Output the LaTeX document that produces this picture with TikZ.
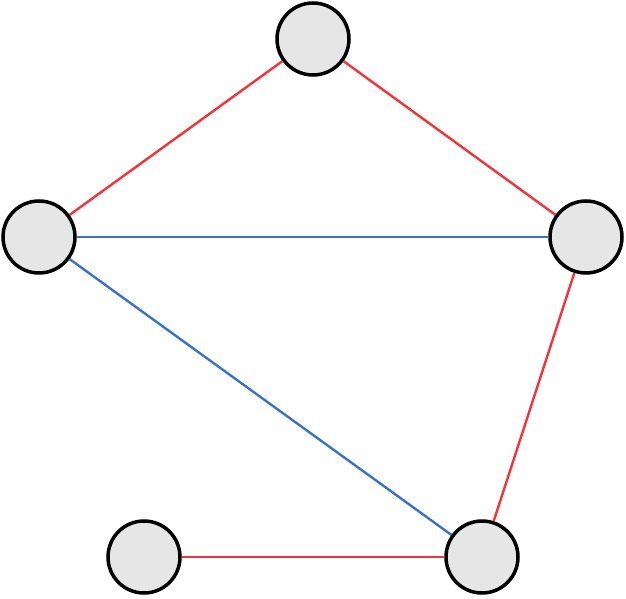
\documentclass[tikz,border=0pt]{standalone}
\definecolor{nodefill}{HTML}{E6E6E6}
\definecolor{redline}{HTML}{F5333A}
\definecolor{blueline}{HTML}{3A72C8}
\begin{document}
\begin{tikzpicture}[x=1pt,y=-1pt,
  vtx/.style={circle,draw=black,line width=3.5pt,fill=nodefill,minimum size=72pt,inner sep=0pt},
  redge/.style={draw=redline,line width=2.4pt},
  bedge/.style={draw=blueline,line width=2.4pt}]
\useasboundingbox (0,0) rectangle (626,599);
\node[vtx] (t) at (313,39) {};
\node[vtx] (l) at (39,237) {};
\node[vtx] (r) at (586,237) {};
\node[vtx] (br) at (482,557) {};
\node[vtx] (bl) at (144,557) {};
\path[redge] (t) -- (l);
\path[redge] (t) -- (r);
\path[bedge] (l) -- (r);
\path[bedge] (l) -- (br);
\path[redge] (r) -- (br);
\path[redge] (bl) -- (br);
\end{tikzpicture}
\end{document}
